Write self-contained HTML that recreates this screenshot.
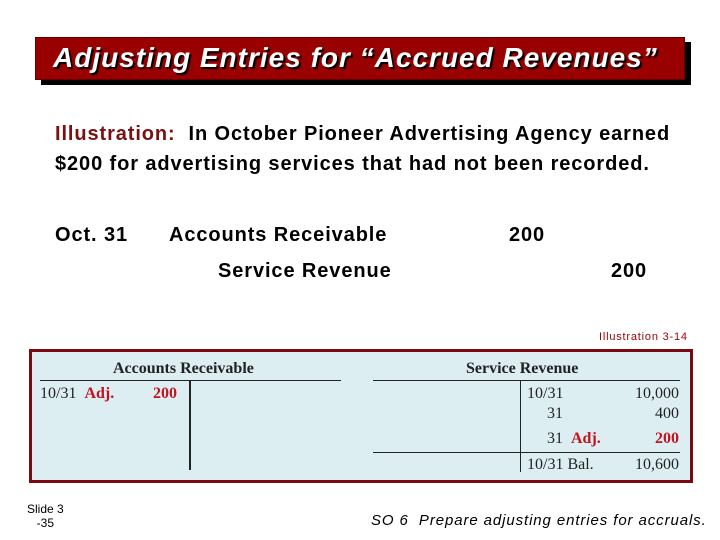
<!DOCTYPE html>
<html><head><meta charset="utf-8"><style>
body{margin:0;width:720px;height:540px;background:#fff;position:relative;overflow:hidden;font-family:"Liberation Sans",sans-serif}
.a{position:absolute;white-space:nowrap}
.t{font-size:20px;color:#000;font-weight:bold;letter-spacing:0.9px}
.s{font-family:"Liberation Serif",serif;font-size:16px;color:#222}
.r{color:#c0141e;font-weight:bold}
</style></head><body>
<div class="a" style="left:41px;top:42px;width:650px;height:43px;background:#000"></div>
<div class="a" style="left:35px;top:37px;width:648px;height:41px;background:#990000;border:1px solid #600"></div>
<div class="a" style="left:53px;top:42px;font-size:28px;font-style:italic;font-weight:bold;color:#fff;letter-spacing:1px;text-shadow:2px 2px 1px #000">Adjusting Entries for “Accrued Revenues”</div>
<div class="a t" style="left:55px;top:119px;line-height:30px"><span style="color:#7a1010">Illustration:</span>&nbsp; In October Pioneer Advertising Agency earned<br>$200 for advertising services that had not been recorded.</div>
<div class="a t" style="left:55px;top:224px">Oct. 31</div>
<div class="a t" style="left:169px;top:224px">Accounts Receivable</div>
<div class="a t" style="left:509px;top:224px">200</div>
<div class="a t" style="left:218px;top:260px">Service Revenue</div>
<div class="a t" style="left:611px;top:260px">200</div>
<div class="a" style="left:599px;top:331px;font-size:11px;color:#990000;letter-spacing:0.8px">Illustration 3-14</div>
<div class="a" style="left:29px;top:349px;width:658px;height:128px;background:#dceef2;border:3px solid #7a0a12"></div>
<div class="a s" style="left:113px;top:360px;font-weight:bold">Accounts Receivable</div>
<div class="a" style="left:40px;top:380px;width:301px;height:1px;background:#222"></div>
<div class="a" style="left:189px;top:380px;width:2px;height:90px;background:#222"></div>
<div class="a s" style="left:40px;top:385px">10/31&nbsp; <span class="r">Adj.</span></div>
<div class="a s r" style="left:153px;top:385px">200</div>
<div class="a s" style="left:466px;top:360px;font-weight:bold">Service Revenue</div>
<div class="a" style="left:373px;top:380px;width:307px;height:1px;background:#222"></div>
<div class="a" style="left:520px;top:380px;width:1px;height:92px;background:#222"></div>
<div class="a" style="left:373px;top:452px;width:307px;height:1px;background:#222"></div>
<div class="a s" style="left:527px;top:385px">10/31</div>
<div class="a s" style="right:41px;top:385px">10,000</div>
<div class="a s" style="left:547px;top:405px">31</div>
<div class="a s" style="right:41px;top:405px">400</div>
<div class="a s" style="left:547px;top:430px">31&nbsp; <span class="r">Adj.</span></div>
<div class="a s r" style="right:41px;top:430px">200</div>
<div class="a s" style="left:527px;top:456px">10/31 Bal.</div>
<div class="a s" style="right:41px;top:456px">10,600</div>
<div class="a" style="left:27px;top:502px;font-size:12px;text-align:center;line-height:14px">Slide 3<br>-35</div>
<div class="a" style="left:371px;top:512px;font-size:15px;font-style:italic;letter-spacing:0.9px">SO 6&nbsp; Prepare adjusting entries for accruals.</div>
</body></html>
